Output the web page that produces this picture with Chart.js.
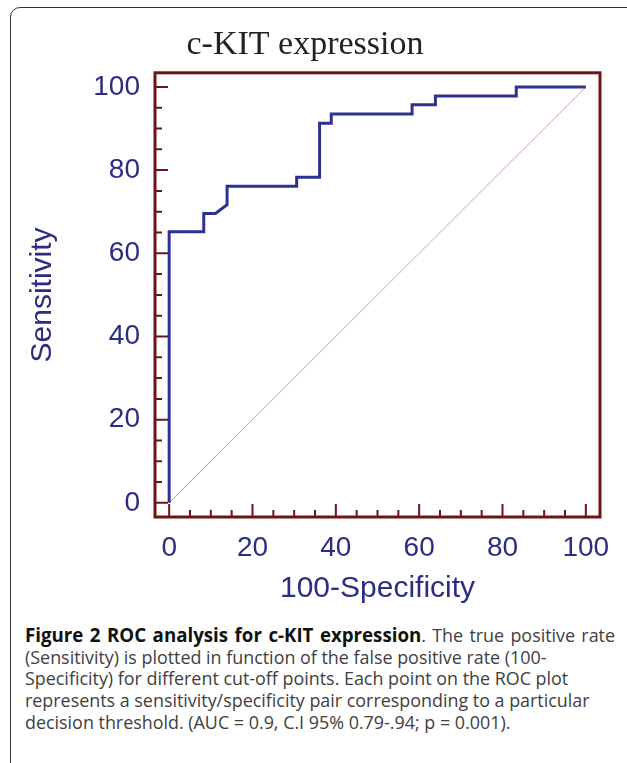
<!DOCTYPE html>
<html>
<head>
<meta charset="utf-8">
<script src="https://cdn.jsdelivr.net/npm/chart.js"></script>
<style>
body { margin: 0; width: 627px; height: 763px; overflow: hidden; background: #fff; position: relative; }
#box { position: absolute; left: 10px; top: 7px; width: 640px; height: 780px; border: 1.5px solid #333; border-radius: 10px; box-sizing: border-box; }
#chart1 { position: absolute; left: 0; top: 0; }
#caption { position: absolute; left: 25px; top: 624px; font-family: "Open Sans"; font-size: 17.9px; line-height: 21.7px; color: #404040; white-space: nowrap; }
#caption b { color: #111; font-size: 18.7px; }
#caption .first { display: inline-block; width: 590px; text-align: justify; text-align-last: justify; }
</style>
</head>
<body>
<div id="box"></div>
<canvas id="chart1" width="627" height="610"></canvas>
<div id="caption"><span class="first"><b>Figure 2 ROC analysis for c-KIT expression</b>. The true positive rate</span><br>(Sensitivity) is plotted in function of the false positive rate (100-<br>Specificity) for different cut-off points. Each point on the ROC plot<br>represents a sensitivity/specificity pair corresponding to a particular<br>decision threshold. (AUC = 0.9, C.I 95% 0.79-.94; p = 0.001).</div>
<script>
/************* ROC data ********* */
const fpr = [0, 0, 8.3, 8.3, 11.1, 13.9, 13.9, 30.6, 30.6, 36.1, 36.1, 38.9, 38.9, 58.3, 58.3, 63.9, 63.9, 83.3, 83.3, 100];
const tpr = [0, 65.2, 65.2, 69.6, 69.6, 71.7, 76.1, 76.1, 78.3, 78.3, 91.3, 91.3, 93.5, 93.5, 95.7, 95.7, 97.8, 97.8, 100, 100];
const refX = [0, 100];
const refY = [0, 100];
const tickLabels = [0, 20, 40, 60, 80, 100];
const tickMarks = [0, 5, 10, 15, 20, 25, 30, 35, 40, 45, 50, 55, 60, 65, 70, 75, 80, 85, 90, 95, 100];

const curveColor = '#2e3192';
const frameColor = '#6e1414';
const labelColor = '#2b2d84';

// frame + inward tick marks
const frameTicks = {
    id: 'frameTicks',
    beforeDatasetsDraw(chart) {
        const {ctx, chartArea: a, scales: {x, y}} = chart;
        ctx.save();
        ctx.strokeStyle = frameColor;
        ctx.lineWidth = 2;
        tickMarks.forEach(v => {
            const len = v % 20 === 0 ? 13 : 7;
            const px = x.getPixelForValue(v);
            const py = y.getPixelForValue(v);
            ctx.beginPath();
            ctx.moveTo(px, a.bottom); ctx.lineTo(px, a.bottom - len);
            ctx.moveTo(a.left, py); ctx.lineTo(a.left + len, py);
            ctx.stroke();
        });
        ctx.lineWidth = 3;
        ctx.strokeRect(a.left, a.top, a.right - a.left, a.bottom - a.top);
        ctx.restore();
    }
};

const setTicks = scale => { scale.ticks = tickLabels.map(v => ({value: v})); };

new Chart("chart1", {
    type: "scatter",
    data: {
        datasets: [{
            data: fpr.map((v, i) => ({x: v, y: tpr[i]})),
            showLine: true,
            borderColor: curveColor,
            borderWidth: 3,
            pointRadius: 0
        }, {
            data: refX.map((v, i) => ({x: v, y: refY[i]})),
            showLine: true,
            borderColor: '#c9a3a3',
            borderWidth: 1,
            pointRadius: 0
        }]
    },
    options: {
        responsive: false,
        animation: false,
        layout: { padding: {left: 10, right: 27, top: 0, bottom: 3} },
        plugins: {
            legend: { display: false },
            tooltip: { enabled: false },
            title: {
                display: true,
                text: 'c-KIT expression',
                color: '#222',
                font: { family: 'Liberation Serif', size: 34, weight: 'normal', lineHeight: 1.2 },
                padding: { top: 25, bottom: 7 }
            }
        },
        scales: {
            x: {
                type: 'linear',
                min: -3.4, max: 103.4,
                afterBuildTicks: setTicks,
                afterFit: s => { s.height = 90; },
                grid: { display: false },
                border: { display: false },
                ticks: { color: labelColor, padding: 6, font: { family: 'Liberation Sans', size: 28 } },
                title: {
                    display: true, text: '100-Specificity', color: labelColor,
                    font: { family: 'Liberation Sans', size: 30, lineHeight: 1.2 },
                    padding: { top: 0, bottom: 0 }
                }
            },
            y: {
                type: 'linear',
                min: -3.4, max: 103.4,
                afterBuildTicks: setTicks,
                afterFit: s => { s.width = 145; },
                grid: { display: false },
                border: { display: false },
                ticks: { color: labelColor, padding: 7, font: { family: 'Liberation Sans', size: 28 } },
                title: {
                    display: true, text: 'Sensitivity', color: labelColor,
                    font: { family: 'Liberation Sans', size: 30, lineHeight: 1.2 },
                    padding: { top: 15, bottom: 0 }
                }
            }
        }
    },
    plugins: [frameTicks]
});
</script>
</body>
</html>
